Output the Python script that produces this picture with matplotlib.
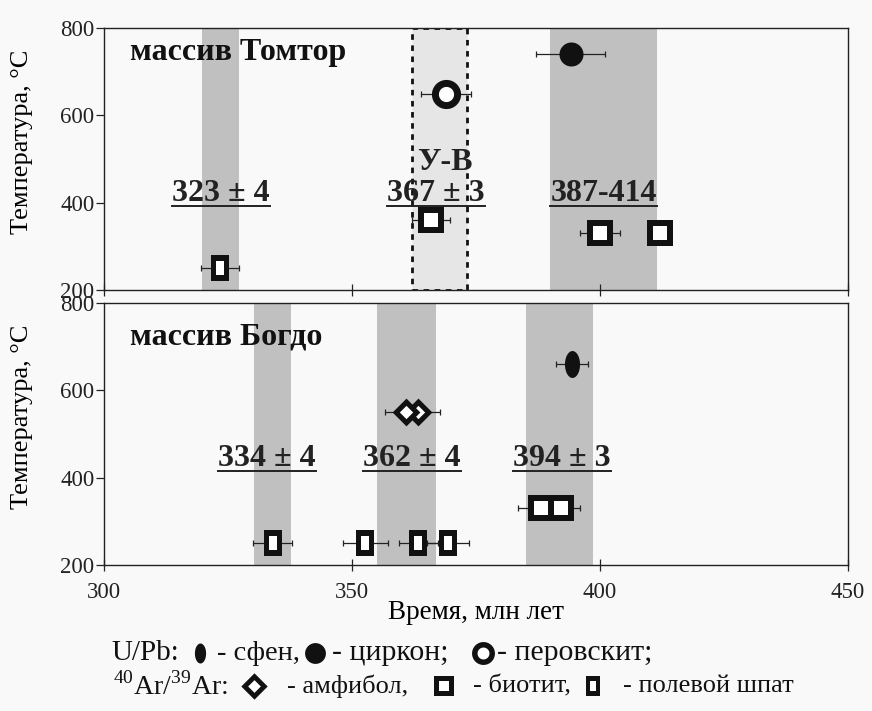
import numpy as np
import matplotlib
matplotlib.use("Agg")
import matplotlib.pyplot as plt
from matplotlib.path import Path
from matplotlib.lines import Line2D

plt.rcParams['font.family'] = ['Liberation Serif', 'DejaVu Serif']
plt.rcParams['mathtext.fontset'] = 'custom'
plt.rcParams['mathtext.rm'] = 'Liberation Serif'

# --- data: massif Tomtor (top panel) ---
tom_bands = [(319.8, 327.2), (390.0, 411.5)]
tom_box = (362.1, 373.2)
tom_feld_x, tom_feld_y, tom_feld_err = [323.4], [250], [3.8]
tom_bio_x, tom_bio_y, tom_bio_err = [365.9, 400.0, 412.1], [360, 330, 330], [3.8, 4.0, 0.0]
tom_per_x, tom_per_y, tom_per_err = [368.9], [650], [5.0]
tom_zir_x, tom_zir_y, tom_zir_err = [394.1], [740], [7.0]
tom_labels = ["323 ± 4", "367 ± 3", "387-414"]
tom_label_x = [323.6, 366.9, 400.7]
tom_label_y = 422
tom_box_label = "У-В"

# --- data: massif Bogdo (bottom panel) ---
bog_bands = [(330.2, 337.7), (355.0, 366.9), (385.0, 398.5)]
bog_sph_x, bog_sph_y, bog_sph_err = [394.3], [660], [3.2]
bog_amp_x, bog_amp_y, bog_amp_err = [363.4, 360.9], [550, 550], [4.3, 4.3]
bog_feld_x, bog_feld_y, bog_feld_err = [334.0, 352.7, 363.4, 369.4], [250, 250, 250, 250], [4.0, 4.6, 3.9, 4.2]
bog_bio_x, bog_bio_y, bog_bio_err = [388.2, 392.1], [330, 330], [4.7, 3.9]
bog_labels = ["334 ± 4", "362 ± 4", "394 ± 3"]
bog_label_x = [332.9, 362.1, 392.3]
bog_label_y = 445

x_ticks = [300, 350, 400, 450]
y_ticks = [200, 400, 600, 800]


# --- marker shapes: (black outline path, white inner path, inner/outer scale) ---
def closed(v):
    v = [tuple(p) for p in v]
    return Path(v + [v[0]], [Path.MOVETO] + [Path.LINETO] * (len(v) - 1) + [Path.CLOSEPOLY])


def rect(w, h):
    return [(-w, -h), (w, -h), (w, h), (-w, h)]


def diamond(r):
    return [(0, -r), (r, 0), (0, r), (-r, 0)]


def ellipse(a, b, n=60):
    t = np.linspace(0, 2 * np.pi, n, endpoint=False)
    return list(zip(a * np.cos(t), b * np.sin(t)))


def shape(outer, inner=None):
    if inner is None:
        return closed(outer), None, 0
    ratio = np.abs(np.array(inner)).max() / np.abs(np.array(outer)).max()
    return closed(outer), closed(inner), ratio


FELDSPAR = shape(rect(0.7, 1.0), rect(0.26, 0.5))
BIOTITE = shape(rect(1.0, 1.0), rect(0.52, 0.52))
AMPHIBOLE = shape(diamond(1.0), diamond(0.48))
PEROVSKITE = shape(ellipse(1.0, 1.0), ellipse(0.52, 0.52))
SPHENE = shape(ellipse(0.56, 1.0))
ZIRCON = shape(ellipse(1.0, 1.0))

BG = '#f9f9f9'
BAND = '#c0c0c0'
INK = '#111111'

fig = plt.figure(figsize=(8.72, 7.11), dpi=100, facecolor=BG)
ax1 = fig.add_axes([104 / 872, 1 - 290 / 711, 744 / 872, 262 / 711])
ax2 = fig.add_axes([104 / 872, 1 - 565 / 711, 744 / 872, 262 / 711])


def draw_marker(ax, xs, ys, shp, ms, z=4):
    outer, inner, ratio = shp
    for x, y in zip(xs, ys):
        ax.plot([x], [y], ls='none', marker=outer, ms=ms, color=INK, mew=0, zorder=z)
        if inner is not None:
            ax.plot([x], [y], ls='none', marker=inner, ms=ms * ratio, color='white',
                    mew=0, zorder=z + 0.01)
        z += 0.02


def points(ax, xs, ys, errs, shp, ms):
    ax.errorbar(xs, ys, xerr=errs, fmt='none', ecolor='#222222', elinewidth=0.9,
                capsize=2.5, capthick=0.9, zorder=3)
    draw_marker(ax, xs, ys, shp, ms)


for ax in (ax1, ax2):
    ax.set_facecolor(BG)
    ax.set_xlim(300, 450)
    ax.set_ylim(200, 800)
    ax.set_xticks(x_ticks)
    ax.set_yticks(y_ticks)
    ax.tick_params(axis='y', direction='out', length=6, width=0.9, pad=1,
                   labelsize=16.5, colors='#222222')
    ax.tick_params(axis='x', direction='inout', length=9, width=0.9, pad=8,
                   labelsize=16.5, colors='#222222')
    for s in ax.spines.values():
        s.set_linewidth(1.0)
        s.set_color('#222222')
    ax.set_ylabel("Температура, °C", fontsize=19)
    ax.yaxis.set_label_coords(-0.095, 0.565)

ax1.tick_params(axis='x', labelbottom=False)
ax2.set_xlabel("Время, млн лет", fontsize=19.5)
ax2.xaxis.set_label_coords(0.5, -0.135)

# top panel
for lo, hi in tom_bands:
    ax1.axvspan(lo, hi, color=BAND, lw=0, zorder=1)
ax1.axvspan(tom_box[0], tom_box[1], facecolor='#e6e6e6', edgecolor='#111111',
            lw=2.0, ls=(0, (2, 2)), zorder=1)
points(ax1, tom_feld_x, tom_feld_y, tom_feld_err, FELDSPAR, 19.4)
points(ax1, tom_bio_x, tom_bio_y, tom_bio_err, BIOTITE, 18.7)
points(ax1, tom_per_x, tom_per_y, tom_per_err, PEROVSKITE, 21)
points(ax1, tom_zir_x, tom_zir_y, tom_zir_err, ZIRCON, 17.3)
ax1.text(0.035, 0.905, "массив Томтор", transform=ax1.transAxes, fontsize=23,
         fontweight='bold', va='center', ha='left', color=INK, zorder=5)
ax1.text(368.8, 493, tom_box_label, fontsize=23, fontweight='bold',
         ha='center', va='center', color='#222222', zorder=5)
label_texts = []
for lab, lx in zip(tom_labels, tom_label_x):
    label_texts.append(ax1.text(lx, tom_label_y, lab, fontsize=23, fontweight='bold',
                                ha='center', va='center', color='#222222', zorder=5))

# bottom panel
for lo, hi in bog_bands:
    ax2.axvspan(lo, hi, color=BAND, lw=0, zorder=1)
points(ax2, bog_sph_x, bog_sph_y, bog_sph_err, SPHENE, 19.4)
points(ax2, bog_amp_x, bog_amp_y, bog_amp_err, AMPHIBOLE, 20)
points(ax2, bog_feld_x, bog_feld_y, bog_feld_err, FELDSPAR, 19.4)
points(ax2, bog_bio_x, bog_bio_y, bog_bio_err, BIOTITE, 18.7)
ax2.text(0.035, 0.87, "массив Богдо", transform=ax2.transAxes, fontsize=23,
         fontweight='bold', va='center', ha='left', color=INK, zorder=5)
for lab, lx in zip(bog_labels, bog_label_x):
    label_texts.append(ax2.text(lx, bog_label_y, lab, fontsize=23, fontweight='bold',
                                ha='center', va='center', color='#222222', zorder=5))

# underline the age labels
fig.canvas.draw()
inv = fig.transFigure.inverted()
for t in label_texts:
    bb = t.get_window_extent()
    (x0, y0), (x1, _) = inv.transform([(bb.x0, bb.y0 + 2), (bb.x1, bb.y0 + 2)])
    fig.add_artist(Line2D([x0, x1], [y0, y0], transform=fig.transFigure,
                          color='#222222', lw=1.4))

# legend (hand-built key below the plots, pixel layout)
lax = fig.add_axes([0, 0, 1, 1], facecolor='none')
lax.set_xlim(0, 872)
lax.set_ylim(711, 0)
lax.axis('off')

row1, row2 = 653, 686


def key(x, y, shp, ms):
    draw_marker(lax, [x], [y], shp, ms)


def word(x, y, s, size):
    lax.text(x, y, s, fontsize=size, va='center', ha='left', color=INK)


word(111, row1, "U/Pb:", 21)
key(200, row1, SPHENE, 14.4)
word(217, row1, "- сфен,", 20.5)
key(315, row1, ZIRCON, 15)
word(332, row1, "- циркон;", 21.5)
key(483, row1, PEROVSKITE, 16.5)
word(497, row1, "- перовскит;", 21.5)

word(113, row2, r"$^{40}$Ar/$^{39}$Ar:", 20)
key(254, row2, AMPHIBOLE, 19)
word(287, row2, "- амфибол,", 19)
key(444, row2, BIOTITE, 15)
word(473, row2, "- биотит,", 19)
key(593, row2, FELDSPAR, 15)
word(623, row2, "- полевой шпат", 19)

fig.savefig("out.png", dpi=100, facecolor=BG)
